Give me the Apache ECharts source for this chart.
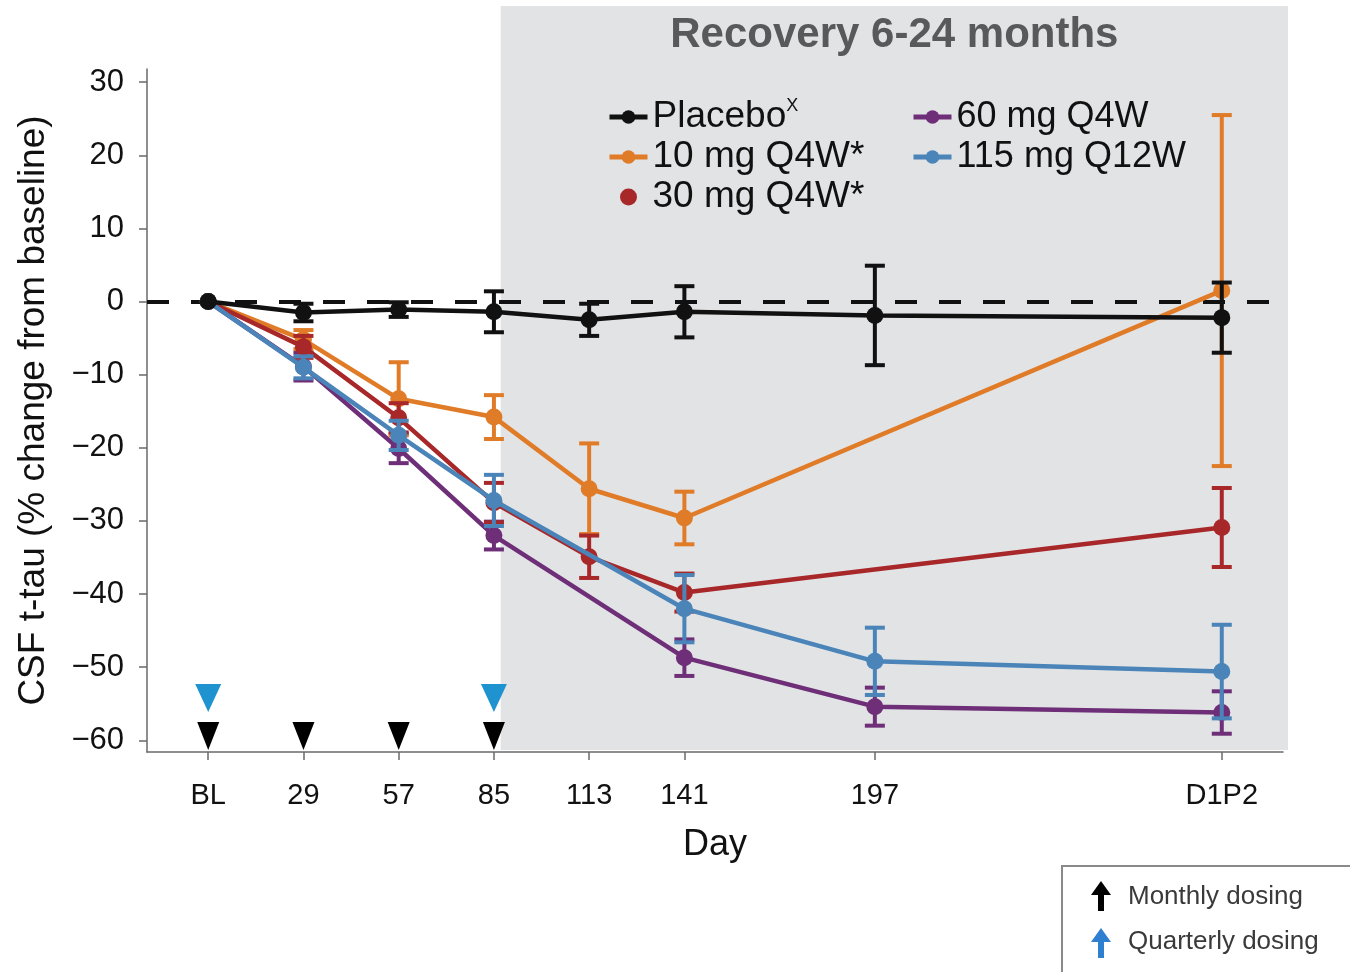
<!DOCTYPE html>
<html>
<head>
<meta charset="utf-8">
<script src="https://cdn.jsdelivr.net/npm/echarts@6/dist/echarts.min.js"></script>
<style>
  html, body { margin: 0; padding: 0; background: #fff; }
  #chart { width: 1350px; height: 972px; }
</style>
</head>
<body>
<div id="chart"></div>
<script>
// Visit days (BL = day 1; D1P2 follow-up placed after day 197)
const days = [1, 29, 57, 85, 113, 141, 197, 299];
const dayLabels = ['BL', '29', '57', '85', '113', '141', '197', 'D1P2'];
const yTicks = [-60, -50, -40, -30, -20, -10, 0, 10, 20, 30];

// Mean % change from baseline in CSF t-tau and error half-widths
const placeboMean = [0, -1.5, -1.1, -1.4, -2.5, -1.4, -1.9, -2.2];
const placeboErr  = [null, 1.2, 1.0, 2.8, 2.2, 3.5, 6.8, 4.8];
const mg10Mean = [0, -5.2, -13.3, -15.8, -25.6, -29.6, null, 1.5];
const mg10Err  = [null, 1.3, 5.0, 3.0, 6.2, 3.6, null, 24.0];
const mg30Mean = [0, -6.2, -15.9, -27.5, -34.9, -39.8, null, -30.9];
const mg30Err  = [null, 1.5, 2.0, 2.7, 2.9, 2.6, null, 5.4];
const mg60Mean = [0, -8.9, -20.1, -32.0, null, -48.7, -55.4, -56.2];
const mg60Err  = [null, 1.9, 2.0, 1.9, null, 2.5, 2.6, 2.9];
const mg115Mean = [0, -9.0, -18.3, -27.2, null, -42.0, -49.2, -50.6];
const mg115Err  = [null, 1.5, 2.0, 3.5, null, 4.6, 4.6, 6.4];

// Dosing days
const monthlyDoseDays = [1, 29, 57, 85];
const quarterlyDoseDays = [1, 85];
const recoveryStartDay = 87;

const X_MIN = -17, X_MAX = 317, Y_MIN = -61.6, Y_MAX = 31.8;
const FONT = '"Liberation Sans", Arial, Helvetica, sans-serif';

const groups = [
  { name: '60 mg Q4W',   mean: mg60Mean,   err: mg60Err,   color: '#6e2f78' },
  { name: '10 mg Q4W*',  mean: mg10Mean,   err: mg10Err,   color: '#e07b28' },
  { name: '30 mg Q4W*',  mean: mg30Mean,   err: mg30Err,   color: '#a8282a' },
  { name: '115 mg Q12W', mean: mg115Mean,  err: mg115Err,  color: '#4a84b8' },
  { name: 'Placebo',     mean: placeboMean, err: placeboErr, color: '#111111' }
];

function pairs(mean) {
  return days.map((d, i) => [d, mean[i]]);
}
function errRows(mean, err) {
  const rows = [];
  days.forEach((d, i) => {
    if (mean[i] != null && err[i] != null) rows.push([d, mean[i] - err[i], mean[i] + err[i]]);
  });
  return rows;
}
function errBarRenderer(color) {
  return function (params, api) {
    const x = api.value(0);
    const lo = api.coord([x, api.value(1)]);
    const hi = api.coord([x, api.value(2)]);
    const hw = 10;
    const style = { stroke: color, lineWidth: 4 };
    return {
      type: 'group',
      children: [
        { type: 'line', shape: { x1: lo[0], y1: lo[1], x2: hi[0], y2: hi[1] }, style },
        { type: 'line', shape: { x1: lo[0] - hw, y1: lo[1], x2: lo[0] + hw, y2: lo[1] }, style },
        { type: 'line', shape: { x1: hi[0] - hw, y1: hi[1], x2: hi[0] + hw, y2: hi[1] }, style }
      ]
    };
  };
}

const series = [];
groups.forEach((g, k) => {
  series.push({
    name: g.name + ' SE',
    type: 'custom',
    renderItem: errBarRenderer(g.color),
    data: errRows(g.mean, g.err),
    encode: { x: 0, y: [1, 2] },
    z: 2 + k * 2,
    silent: true
  });
  series.push({
    name: g.name,
    type: 'line',
    data: pairs(g.mean),
    connectNulls: true,
    symbol: 'circle',
    symbolSize: 17,
    showSymbol: true,
    color: g.color,
    lineStyle: { width: 4.5, color: g.color },
    itemStyle: { color: g.color, opacity: 1 },
    z: 3 + k * 2,
    animation: false
  });
});

// Zero reference line
series.push({
  name: 'baseline',
  type: 'line',
  data: [],
  z: 20,
  markLine: {
    silent: true,
    symbol: 'none',
    label: { show: false },
    lineStyle: { color: '#111', width: 4, type: [22, 22] },
    data: [{ yAxis: 0 }]
  }
});

// Dosing markers
series.push({
  name: 'Monthly dosing',
  type: 'scatter',
  data: monthlyDoseDays.map(d => [d, -59.4]),
  symbol: 'triangle',
  symbolRotate: 180,
  symbolSize: [22, 28],
  itemStyle: { color: '#000', opacity: 1 },
  z: 21,
  silent: true
});
series.push({
  name: 'Quarterly dosing',
  type: 'scatter',
  data: quarterlyDoseDays.map(d => [d, -54.2]),
  symbol: 'triangle',
  symbolRotate: 180,
  symbolSize: [26, 28],
  itemStyle: { color: '#1e93cf', opacity: 1 },
  z: 21,
  silent: true
});

const legendText = {
  fontFamily: FONT,
  fontSize: 37,
  color: '#111',
  lineHeight: 40,
  rich: {
    n: { fontFamily: FONT, fontSize: 37, color: '#111', lineHeight: 40 },
    s: { fontFamily: FONT, fontSize: 18, color: '#111', verticalAlign: 'top', lineHeight: 40, padding: [0, 0, 14, 0] }
  }
};
const legendCommon = {
  orient: 'vertical',
  top: 92,
  itemWidth: 38,
  itemHeight: 17,
  itemGap: 0,
  selectedMode: false,
  lineStyle: { width: 5 },
  textStyle: legendText
};

const chart = echarts.init(document.getElementById('chart'), null, { renderer: 'canvas' });

chart.setOption({
  animation: false,
  backgroundColor: '#ffffff',
  grid: { left: 147, right: 67, top: 69, bottom: 220, containLabel: false },
  xAxis: {
    type: 'value',
    min: X_MIN,
    max: X_MAX,
    name: 'Day',
    nameLocation: 'middle',
    nameGap: 75,
    nameTextStyle: { fontFamily: FONT, fontSize: 36, color: '#111' },
    axisLine: { show: true, onZero: false, lineStyle: { color: '#6a6a6a', width: 1.5 } },
    axisTick: { show: true, length: 8, customValues: days, lineStyle: { color: '#6a6a6a', width: 1.5 } },
    axisLabel: {
      customValues: days,
      margin: 29,
      fontFamily: FONT,
      fontSize: 29,
      color: '#111',
      formatter: v => dayLabels[days.indexOf(v)] || ''
    },
    splitLine: { show: false }
  },
  yAxis: {
    type: 'value',
    min: Y_MIN,
    max: Y_MAX,
    name: 'CSF t-tau (% change from baseline)',
    nameLocation: 'middle',
    nameGap: 95,
    nameTextStyle: { fontFamily: FONT, fontSize: 37, color: '#111' },
    axisLine: { show: true, onZero: false, lineStyle: { color: '#6a6a6a', width: 1.5 } },
    axisTick: { show: true, length: 8, customValues: yTicks, lineStyle: { color: '#6a6a6a', width: 1.5 } },
    axisLabel: {
      customValues: yTicks,
      margin: 23,
      fontFamily: FONT,
      fontSize: 31,
      color: '#111',
      formatter: v => String(v).replace('-', '\u2212')
    },
    splitLine: { show: false }
  },
  legend: [
    Object.assign({}, legendCommon, {
      left: 602,
      data: [{ name: 'Placebo' }, { name: '10 mg Q4W*' }, { name: '30 mg Q4W*', icon: 'circle' }],
      formatter: name => name === 'Placebo' ? '{n|Placebo}{s|X}' : '{n|' + name + '}'
    }),
    Object.assign({}, legendCommon, {
      left: 906,
      textStyle: Object.assign({}, legendText, {
        fontSize: 36,
        rich: { n: { fontFamily: FONT, fontSize: 36, color: '#111', lineHeight: 40 } }
      }),
      data: [{ name: '60 mg Q4W' }, { name: '115 mg Q12W' }],
      formatter: name => '{n|' + name + '}'
    })
  ],
  series: series
});

// Recovery shading, heading and dosing key, placed from the axis scales
const xStart = chart.convertToPixel({ xAxisIndex: 0 }, recoveryStartDay);
const xEnd = chart.convertToPixel({ xAxisIndex: 0 }, X_MAX) + 5;
const yBottom = chart.convertToPixel({ yAxisIndex: 0 }, Y_MIN) - 2;
const shadeTop = 6;

function arrow(cx, top, color) {
  return [
    { type: 'polygon', shape: { points: [[cx - 10, top + 14], [cx + 10, top + 14], [cx, top]] }, style: { fill: color } },
    { type: 'rect', shape: { x: cx - 3, y: top + 13, width: 6, height: 17 }, style: { fill: color } }
  ];
}

chart.setOption({
  graphic: [
    {
      type: 'rect',
      z: -10,
      silent: true,
      shape: { x: xStart, y: shadeTop, width: xEnd - xStart, height: yBottom - shadeTop },
      style: { fill: '#e2e3e5' }
    },
    {
      type: 'text',
      z: 5,
      silent: true,
      x: (xStart + xEnd) / 2,
      y: 35,
      style: {
        text: 'Recovery 6-24 months',
        fontFamily: '"Liberation Sans Narrow", "Liberation Sans", Arial, sans-serif',
        fontWeight: 'bold',
        fontSize: 42,
        fill: '#58595b',
        align: 'center',
        verticalAlign: 'middle'
      }
    },
    {
      type: 'rect',
      z: 5,
      silent: true,
      shape: { x: 1062, y: 866, width: 300, height: 130 },
      style: { fill: '#fff', stroke: '#8a8a8a', lineWidth: 2 }
    },
    ...arrow(1101, 881, '#000').map(e => Object.assign(e, { z: 6, silent: true })),
    ...arrow(1101, 928, '#2f7fd0').map(e => Object.assign(e, { z: 6, silent: true })),
    {
      type: 'text', z: 6, silent: true, x: 1128, y: 897,
      style: { text: 'Monthly dosing', fontFamily: FONT, fontSize: 26, fill: '#3a3a3a', verticalAlign: 'middle' }
    },
    {
      type: 'text', z: 6, silent: true, x: 1128, y: 942,
      style: { text: 'Quarterly dosing', fontFamily: FONT, fontSize: 26, fill: '#3a3a3a', verticalAlign: 'middle' }
    }
  ]
});
</script>
</body>
</html>
